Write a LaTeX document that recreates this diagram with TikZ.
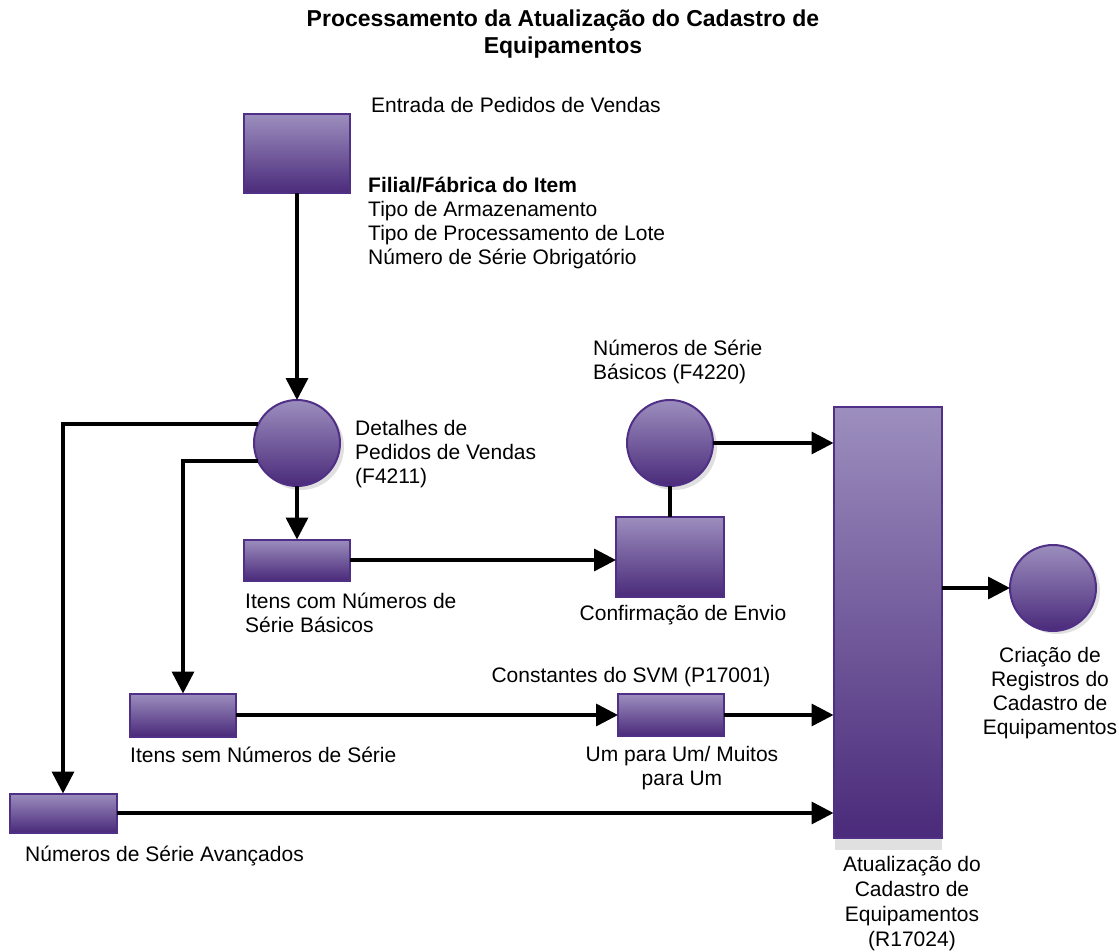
\documentclass[tikz,border=0pt]{standalone}
\usepackage{fontspec}
\setmainfont{Liberation Sans}
\usetikzlibrary{arrows.meta}
\definecolor{ptop}{RGB}{156,142,190}
\definecolor{pbot}{RGB}{74,42,122}
\definecolor{pborder}{RGB}{80,48,134}
\definecolor{shadowgray}{RGB}{224,224,224}
\begin{document}
\begin{tikzpicture}[x=1pt,y=-1pt,
  proc/.style={draw=pborder, line width=2pt, top color=ptop, bottom color=pbot, inner sep=0pt, outer sep=0pt},
  rbox/.style={proc, rectangle},
  rcirc/.style={proc, circle, minimum size=86pt},
  shadowc/.style={fill=shadowgray, circle, minimum size=86pt, inner sep=0pt},
  conn/.style={line width=3.5pt},
  arr/.style={conn, -{Triangle[length=22pt,width=22pt]}},
  lbl/.style={font=\fontsize{21}{24}\selectfont, inner sep=0pt},
  ttl/.style={font=\fontsize{23}{27}\selectfont\bfseries, inner sep=0pt, align=center},
]
\useasboundingbox (0,0) rectangle (1119,952);

% title
\node[ttl] (title) at (563,34) {Processamento da Atualização do Cadastro de\\Equipamentos};

% shadows
\node[shadowc] (c1s) at (301,447) {};
\node[shadowc] (c2s) at (674,447) {};
\node[shadowc] (c3s) at (1057,591) {};
\fill[shadowgray] (835,836) rectangle (942,850);

% shapes
\node[rbox, minimum width=106pt, minimum height=79pt] (entrada) at (297,154) {};
\node[rcirc] (c1) at (297,443) {};
\node[rbox, minimum width=106pt, minimum height=41pt] (itcom) at (297,560) {};
\node[rcirc] (c2) at (670,443) {};
\node[rbox, minimum width=108pt, minimum height=80pt] (conf) at (670,557) {};
\node[rbox, minimum width=106pt, minimum height=43pt] (itsem) at (183,715) {};
\node[rbox, minimum width=106pt, minimum height=42pt] (svm) at (671,715) {};
\node[rbox, minimum width=107pt, minimum height=39pt] (avanc) at (63,813) {};
\node[rbox, minimum width=108pt, minimum height=431pt] (atual) at (887.5,622.5) {};
\node[rcirc] (c3) at (1053,588) {};

% connectors
\draw[arr] (entrada.south) -- (c1.north);
\draw[arr] (c1.south) -- (itcom.north);
\draw[arr] (c1.154) -| (avanc.north);
\draw[arr] (c1.205) -| (itsem.north);
\draw[arr] (itcom.east) -- (itcom.east -| conf.west);
\draw[conn] (c2.south) -- (conf.north);
\draw[arr] (c2.east) -- (c2.east -| atual.west);
\draw[arr] (itsem.east) -- (svm.west);
\draw[arr] (svm.east) -- (svm.east -| atual.west);
\draw[arr] (avanc.east) -- (avanc.east -| atual.west);
\draw[arr] (c3.west -| atual.east) -- (c3.west);

% labels
\node[lbl, anchor=mid west] (l-entrada) at (371,110) {Entrada de Pedidos de Vendas};
\node[lbl, anchor=north west, align=left] (l-filial) at (368,177) {\bfseries Filial/Fábrica do Item\\Tipo de Armazenamento\\Tipo de Processamento de Lote\\Número de Série Obrigatório};
\node[lbl, anchor=north west, align=left] (l-det) at (355,420) {Detalhes de\\Pedidos de Vendas\\(F4211)};
\node[lbl, anchor=north west, align=left] (l-nsb) at (593,340) {Números de Série\\Básicos (F4220)};
\node[lbl, anchor=north west, align=left] (l-itcom) at (245,593) {Itens com Números de\\Série Básicos};
\node[lbl, anchor=mid] (l-conf) at (683,618) {Confirmação de Envio};
\node[lbl, anchor=mid] (l-svm) at (631,680) {Constantes do SVM (P17001)};
\node[lbl, anchor=north, align=center] (l-um) at (682,746) {Um para Um/ Muitos\\para Um};
\node[lbl, anchor=mid west] (l-itsem) at (130,760) {Itens sem Números de Série};
\node[lbl, anchor=mid west] (l-avanc) at (25,859) {Números de Série Avançados};
\node[lbl, anchor=north, align=center, font=\fontsize{21}{25}\selectfont] (l-atual) at (912,856) {Atualização do\\Cadastro de\\Equipamentos\\(R17024)};
\node[lbl, anchor=north, align=center] (l-cria) at (1050,647) {Criação de\\Registros do\\Cadastro de\\Equipamentos};
\end{tikzpicture}
\end{document}
